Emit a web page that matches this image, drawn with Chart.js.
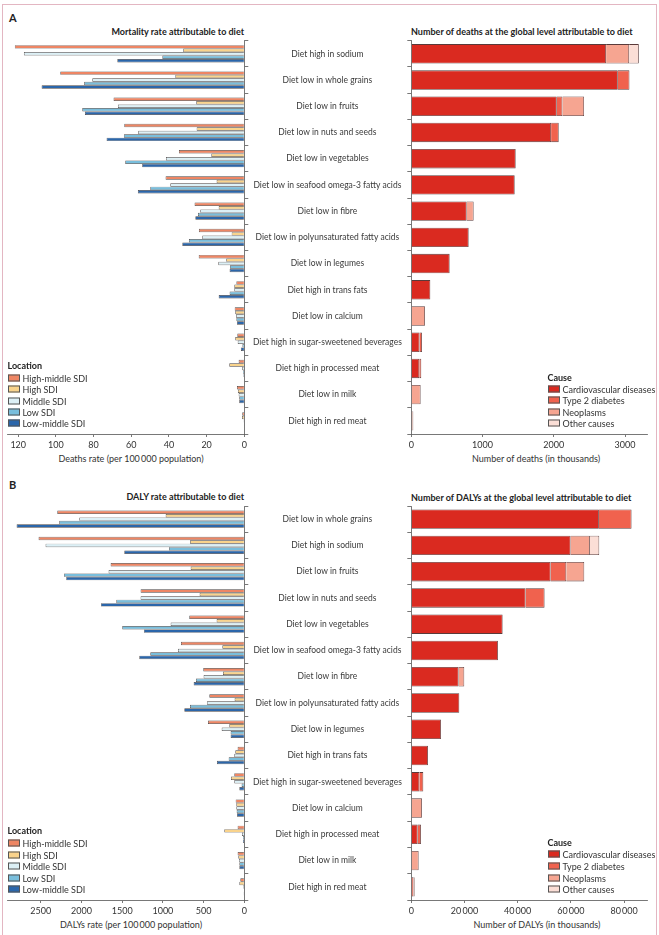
<!DOCTYPE html>
<html><head><meta charset="utf-8">
<script src="https://cdn.jsdelivr.net/npm/chart.js@4/dist/chart.umd.min.js"></script>
<style>
html,body{margin:0;padding:0;background:#fff;}
body{width:659px;height:935px;position:relative;overflow:hidden;font-family:Lato,sans-serif;color:#333;}
canvas{position:absolute;}
.t{position:absolute;white-space:nowrap;font-size:9px;line-height:1;transform:translateY(-50%);}
.b{font-weight:bold;color:#222;}
.c{transform:translate(-50%,-50%);}
.r{transform:translate(-100%,-50%);}
.sw{position:absolute;width:12px;height:7px;border:0.8px solid #555;box-sizing:border-box;transform:translateY(-50%);}
#frame{position:absolute;left:2px;top:4px;width:653px;height:940px;border:1px solid #e3b6c2;}
</style></head><body>
<div id="frame"></div>
<div class="t b" style="left:9px;top:17px;font-size:11px;">A</div>
<div class="t b" style="left:9px;top:484px;font-size:11px;">B</div>
<div class="t b r" style="left:244px;top:31px;">Mortality rate attributable to diet</div>
<div class="t b" style="left:411px;top:31px;">Number of deaths at the global level attributable to diet</div>
<div class="t b r" style="left:244px;top:496px;">DALY rate attributable to diet</div>
<div class="t b" style="left:411px;top:497px;">Number of DALYs at the global level attributable to diet</div>
<div class="t c" style="left:131px;top:458px;">Deaths rate (per 100&#8201;000 population)</div>
<div class="t c" style="left:536px;top:458px;">Number of deaths (in thousands)</div>
<div class="t c" style="left:131px;top:924px;">DALYs rate (per 100&#8201;000 population)</div>
<div class="t c" style="left:537px;top:924px;">Number of DALYs (in thousands)</div>
<canvas id="leftA" width="250" height="470" style="left:0;top:0"></canvas>
<canvas id="rightA" width="409" height="470" style="left:250px;top:0"></canvas>
<canvas id="leftB" width="250" height="469" style="left:0;top:466px"></canvas>
<canvas id="rightB" width="409" height="469" style="left:250px;top:466px"></canvas>
<div id="legends"></div>
<script>
// ---------- DATA ----------
const locations = ['High-middle SDI','High SDI','Middle SDI','Low SDI','Low-middle SDI'];
const causes = ['Cardiovascular diseases','Type 2 diabetes','Neoplasms','Other causes'];

const risksA = ['Diet high in sodium','Diet low in whole grains','Diet low in fruits','Diet low in nuts and seeds','Diet low in vegetables','Diet low in seafood omega-3 fatty acids','Diet low in fibre','Diet low in polyunsaturated fatty acids','Diet low in legumes','Diet high in trans fats','Diet low in calcium','Diet high in sugar-sweetened beverages','Diet high in processed meat','Diet low in milk','Diet high in red meat'];
const risksB = ['Diet low in whole grains','Diet high in sodium','Diet low in fruits','Diet low in nuts and seeds','Diet low in vegetables','Diet low in seafood omega-3 fatty acids','Diet low in fibre','Diet low in polyunsaturated fatty acids','Diet low in legumes','Diet high in trans fats','Diet high in sugar-sweetened beverages','Diet low in calcium','Diet high in processed meat','Diet low in milk','Diet high in red meat'];

// Panel A left: deaths rate per 100 000
const deathRateHighMiddle = [121.8,97.7,69.4,63.7,34.7,41.8,26.4,24.1,24.2,4.2,5.1,3.7,3.0,3.9,1.1];
const deathRateHigh       = [32.4,36.6,25.5,25.3,17.5,14.7,13.6,6.7,9.6,5.3,4.8,4.8,8.0,3.4,1.2];
const deathRateMiddle     = [117.0,80.7,67.1,56.3,41.6,39.3,23.4,22.3,13.8,5.3,4.4,3.5,1.1,3.0,0.4];
const deathRateLow        = [43.5,85.0,86.0,63.9,63.2,49.9,24.6,29.4,7.6,7.8,4.2,1.0,0.7,2.7,0.1];
const deathRateLowMiddle  = [67.4,107.6,84.6,73.1,54.2,56.5,26.0,32.9,7.8,13.6,3.9,1.8,0.5,2.7,0.2];

// Panel A right: number of deaths (thousands)
const deathsCVD   = [2734,2898,2041,1962,1465,1451,777,805,538,267,null,115,112,null,null];
const deathsT2D   = [null,164,80,107,null,null,null,null,null,null,null,35,28,null,16];
const deathsNeo   = [323,null,304,null,null,null,98,null,null,null,192,null,null,131,12];
const deathsOther = [136,null,null,null,null,null,null,null,null,null,null,null,null,null,null];

// Panel B left: DALY rate per 100 000
const dalyRateHighMiddle = [2297,2527,1642,1274,676,778,504,430,446,82,123,106,82,82,49];
const dalyRateHigh       = [966,667,659,549,340,270,262,119,184,111,164,98,246,74,61];
const dalyRateMiddle     = [2027,2441,1667,1274,905,815,500,459,278,123,123,98,29,66,16];
const dalyRateLow        = [2273,925,2215,1572,1499,1155,594,667,168,192,33,94,16,61,4];
const dalyRateLowMiddle  = [2797,1474,2187,1761,1233,1290,622,737,168,336,61,90,16,61,8];

// Panel B right: number of DALYs (thousands)
const dalysCVD   = [70550,59900,52380,42980,34340,32580,17790,18050,11150,6270,3010,null,2380,null,null];
const dalysT2D   = [12280,null,5890,7140,null,null,null,null,null,null,1500,null,1250,null,800];
const dalysNeo   = [null,7270,6770,null,null,null,2130,null,null,null,null,4010,null,2760,450];
const dalysOther = [null,3510,null,null,null,null,null,null,null,null,null,null,null,null,null];

// tick labels
const deathRateTicks = [0,20,40,60,80,100,120];
const deathsTicks = [0,1000,2000,3000];
const dalyRateTicks = [0,500,1000,1500,2000,2500];
const dalysTicks = [0,20000,40000,60000,80000];

// ---------- STYLE ----------
const locColors = ['#ee8664','#f9d38c','#dcf0f6','#79bedc','#2b66aa'];
const causeColors = ['#da2a20','#f0624e','#f6a591','#fbded6'];
const FONT = 'Lato';
const LABEL_SIZE = 8.5;
const axisColor = '#555';

function fmt(v){ v = Math.round(v); if (v >= 10000) { const s = String(v); return s.slice(0, s.length-3) + '\u2009' + s.slice(-3);} return String(v); }

function xScale(max, ticks, reverse, xHeight){
  return {
    type:'linear', min:0, max:max, reverse:reverse, position:'bottom',
    afterBuildTicks: s => { s.ticks = ticks.map(v => ({value:v})); },
    afterFit: s => { s.height = xHeight; },
    grid:{drawOnChartArea:false, drawTicks:true, tickLength:3, color:axisColor, lineWidth:0.8},
    border:{display:true, color:axisColor, width:0.8},
    ticks:{font:{family:FONT,size:9}, color:'#333', padding:3, maxRotation:0, autoSkip:false, callback: v => fmt(v)}
  };
}

function groupedChart(id, labels, series, max, ticks, topPad, xHeight){
  return new Chart(document.getElementById(id), {
    type:'bar',
    data:{labels:labels, datasets: series.map((d,i) => ({
      label:locations[i], data:d, backgroundColor:locColors[i], borderColor:'#4a4444', borderWidth:0.7,
      categoryPercentage:0.66, barPercentage:1
    }))},
    options:{
      indexAxis:'y', animation:false, responsive:false, devicePixelRatio:1,
      layout:{padding:{left:7.3, top:topPad, right:0, bottom:0}},
      plugins:{legend:{display:false}, tooltip:{enabled:false}},
      scales:{
        x: xScale(max, ticks, true, xHeight),
        y:{type:'category', position:'right', offset:true,
           afterFit: s => { s.width = 5.7; },
           grid:{offset:true, drawOnChartArea:false, drawTicks:true, tickLength:4, color:axisColor, lineWidth:0.8},
           border:{display:true, color:axisColor, width:0.8},
           ticks:{display:false}}
      }
    }
  });
}

function stackedChart(id, labels, series, max, ticks, topPad, xHeight){
  const m = document.createElement('canvas').getContext('2d');
  m.font = LABEL_SIZE + 'px ' + FONT;
  const widest = Math.max(...labels.map(l => m.measureText(l).width));
  const pad = Math.max(2, 79.9 - widest/2);
  return new Chart(document.getElementById(id), {
    type:'bar',
    data:{labels:labels, datasets: series.map((d,i) => ({
      label:causes[i], data:d, backgroundColor:causeColors[i], borderColor:'#5a3a3a', borderWidth:0.8,
      categoryPercentage:0.74, barPercentage:1
    }))},
    options:{
      indexAxis:'y', animation:false, responsive:false, devicePixelRatio:1,
      layout:{padding:{left:0, top:topPad, right:11.3, bottom:0}},
      plugins:{legend:{display:false}, tooltip:{enabled:false}},
      scales:{
        x: Object.assign(xScale(max, ticks, false, xHeight), {stacked:true}),
        y:{type:'category', position:'left', offset:true, stacked:true,
           afterFit: s => { s.width = 161.3; },
           grid:{offset:true, drawOnChartArea:false, drawTicks:true, tickLength:4, color:axisColor, lineWidth:0.8},
           border:{display:true, color:axisColor, width:0.8},
           ticks:{font:{family:FONT,size:LABEL_SIZE}, color:'#3a3a3a', crossAlign:'center', padding:pad, autoSkip:false}}
      }
    }
  });
}

groupedChart('leftA', risksA, [deathRateHighMiddle,deathRateHigh,deathRateMiddle,deathRateLow,deathRateLowMiddle], 125.8, deathRateTicks, 40.7, 36);
stackedChart('rightA', risksA, [deathsCVD,deathsT2D,deathsNeo,deathsOther], 3318, deathsTicks, 40.7, 36);
groupedChart('leftB', risksB, [dalyRateHighMiddle,dalyRateHigh,dalyRateMiddle,dalyRateLow,dalyRateLowMiddle], 2911, dalyRateTicks, 40, 35);
stackedChart('rightB', risksB, [dalysCVD,dalysT2D,dalysNeo,dalysOther], 88900, dalysTicks, 40, 35);

// ---------- LEGENDS ----------
function legend(title, names, colors, x, titleY, ys){
  const box = document.getElementById('legends');
  let h = `<div class="t b" style="left:${x}px;top:${titleY}px;">${title}</div>`;
  names.forEach((n,i) => {
    h += `<div class="sw" style="left:${x}px;top:${ys[i]}px;background:${colors[i]}"></div>`;
    h += `<div class="t" style="left:${x+15}px;top:${ys[i]}px;">${n}</div>`;
  });
  box.insertAdjacentHTML('beforeend', h);
}
legend('Location', locations, locColors, 7.5, 364.5, [377.7,389.2,400.6,412,423.4]);
legend('Cause', causes, causeColors, 547.5, 377.3, [389,400.4,411.8,423.2]);
legend('Location', locations, locColors, 7.5, 830.3, [843.3,854.8,866.2,877.7,889.2]);
legend('Cause', causes, causeColors, 547.5, 842.3, [854.3,865.9,877.6,889.2]);
</script>
</body></html>
